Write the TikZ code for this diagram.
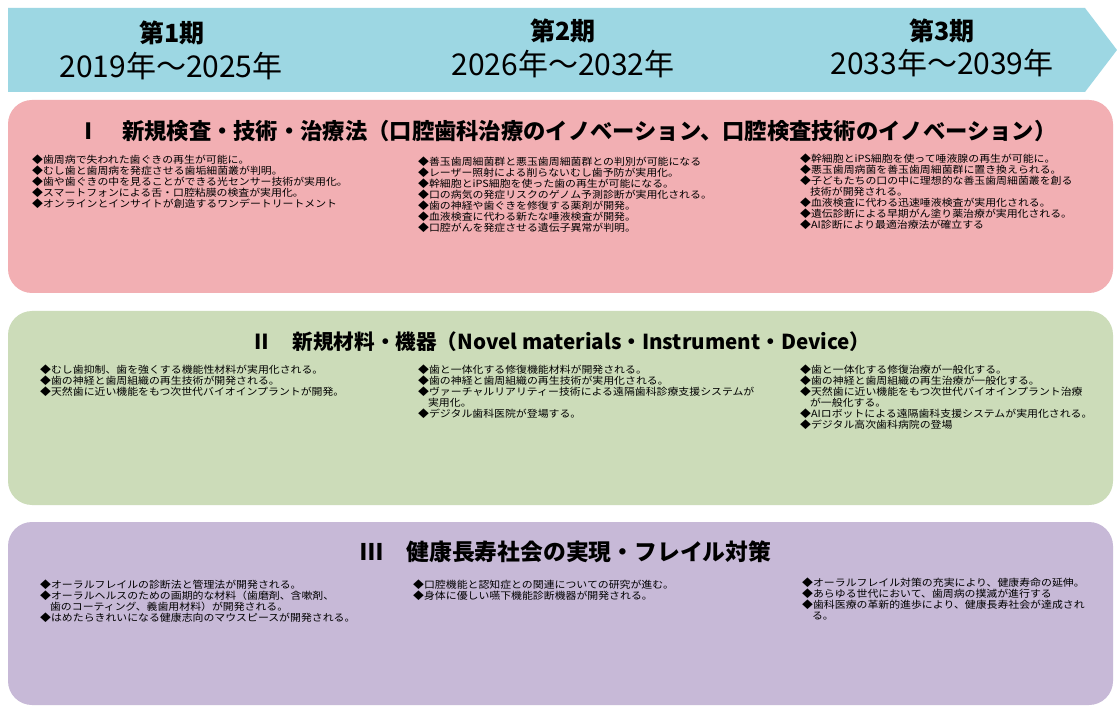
\documentclass[tikz,border=0pt]{standalone}
\usepackage{fontspec}
\newfontfamily\jp{Noto Sans CJK JP}
\newfontfamily\jpw[FakeStretch=1.1]{Noto Sans CJK JP}
\definecolor{bandblue}{HTML}{9DD7E3}
\definecolor{pinkp}{HTML}{F2AFB3}
\definecolor{greenp}{HTML}{CCDCB9}
\definecolor{purplep}{HTML}{C7B9D7}
\tikzset{
  panel/.style={rounded corners=24pt},
  period/.style={font=\jp\bfseries\fontsize{25}{28}\selectfont, inner sep=0pt},
  years/.style={font=\jp\fontsize{30}{32}\selectfont, inner sep=0pt},
  head/.style={font=\jp\bfseries\fontsize{22.3}{24}\selectfont, inner sep=0pt},
  body/.style={font=\jpw\fontsize{9.9}{10.9}\selectfont, align=left, anchor=north west, inner sep=0pt}
}
\begin{document}
\begin{tikzpicture}[x=1pt,y=-1pt]
\useasboundingbox[fill=white] (0,0) rectangle (1117,711);
% timeline band
\fill[bandblue] (8,8) -- (1085,8) -- (1117,50) -- (1085,92) -- (8,92) -- cycle;
\node[period] (p1) at (172,33) {第1期};
\node[years] (y1) at (171,66) {2019年～2025年};
\node[period] (p2) at (563,31) {第2期};
\node[years] (y2) at (563,64) {2026年～2032年};
\node[period] (p3) at (942,31) {第3期};
\node[years] (y3) at (942,63) {2033年～2039年};
% panels
\fill[pinkp, panel] (8,100) rectangle (1113,293);
\fill[greenp, panel] (8,311) rectangle (1113,505);
\fill[purplep, panel] (8,522) rectangle (1113,705);
% panel I
\node[head] (h1) at (567,131) {Ⅰ　新規検査・技術・治療法（口腔歯科治療のイノベーション、口腔検査技術のイノベーション）};
\node[body] (a1) at (32,155) {◆歯周病で失われた歯ぐきの再生が可能に。\\
◆むし歯と歯周病を発症させる歯垢細菌叢が判明。\\
◆歯や歯ぐきの中を見ることができる光センサー技術が実用化。\\
◆スマートフォンによる舌・口腔粘膜の検査が実用化。\\
◆オンラインとインサイトが創造するワンデートリートメント};
\node[body] (a2) at (418,157) {◆善玉歯周細菌群と悪玉歯周細菌群との判別が可能になる\\
◆レーザー照射による削らないむし歯予防が実用化。\\
◆幹細胞とiPS細胞を使った歯の再生が可能になる。\\
◆口の病気の発症リスクのゲノム予測診断が実用化される。\\
◆歯の神経や歯ぐきを修復する薬剤が開発。\\
◆血液検査に代わる新たな唾液検査が開発。\\
◆口腔がんを発症させる遺伝子異常が判明。};
\node[body] (a3) at (800,154) {◆幹細胞とiPS細胞を使って唾液腺の再生が可能に。\\
◆悪玉歯周病菌を善玉歯周細菌群に置き換えられる。\\
◆子どもたちの口の中に理想的な善玉歯周細菌叢を創る\\
\hspace*{1em}技術が開発される。\\
◆血液検査に代わる迅速唾液検査が実用化される。\\
◆遺伝診断による早期がん塗り薬治療が実用化される。\\
◆AI診断により最適治療法が確立する};
% panel II
\node[head, font=\jp\bfseries\fontsize{20.6}{24}\selectfont] (h2) at (561,342) {Ⅱ　新規材料・機器（Novel materials・Instrument・Device）};
\node[body] (b1) at (40,365) {◆むし歯抑制、歯を強くする機能性材料が実用化される。\\
◆歯の神経と歯周組織の再生技術が開発される。\\
◆天然歯に近い機能をもつ次世代バイオインプラントが開発。};
\node[body] (b2) at (418,365) {◆歯と一体化する修復機能材料が開発される。\\
◆歯の神経と歯周組織の再生技術が実用化される。\\
◆ヴァーチャルリアリティー技術による遠隔歯科診療支援システムが\\
\hspace*{1em}実用化。\\
◆デジタル歯科医院が登場する。};
\node[body] (b3) at (800,365) {◆歯と一体化する修復治療が一般化する。\\
◆歯の神経と歯周組織の再生治療が一般化する。\\
◆天然歯に近い機能をもつ次世代バイオインプラント治療\\
\hspace*{1em}が一般化する。\\
◆AIロボットによる遠隔歯科支援システムが実用化される。\\
◆デジタル高次歯科病院の登場};
% panel III
\node[head, font=\jp\bfseries\fontsize{22.8}{24}\selectfont] (h3) at (566,552) {Ⅲ　健康長寿社会の実現・フレイル対策};
\node[body] (c1) at (40,580) {◆オーラルフレイルの診断法と管理法が開発される。\\
◆オーラルヘルスのための画期的な材料（歯磨剤、含嗽剤、\\
\hspace*{1em}歯のコーティング、義歯用材料）が開発される。\\
◆はめたらきれいになる健康志向のマウスピースが開発される。};
\node[body] (c2) at (413,580) {◆口腔機能と認知症との関連についての研究が進む。\\
◆身体に優しい嚥下機能診断機器が開発される。};
\node[body] (c3) at (802,578) {◆オーラルフレイル対策の充実により、健康寿命の延伸。\\
◆あらゆる世代において、歯周病の撲滅が進行する\\
◆歯科医療の革新的進歩により、健康長寿社会が達成され\\
\hspace*{1em}る。};
\end{tikzpicture}
\end{document}
